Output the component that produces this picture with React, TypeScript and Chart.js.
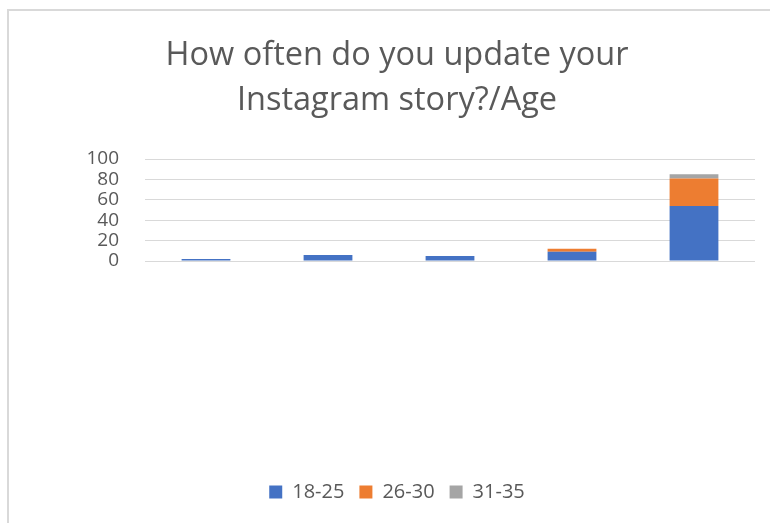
import React, { useEffect, useRef } from "react";
import { Chart, registerables } from "chart.js";

Chart.register(...registerables);

// ---- data ----
const categories = ["", "", "", "", ""];
const seriesNames = ["18-25", "26-30", "31-35"];
const values1825 = [2, 6, 5, 9, 54];
const values2630 = [0, 0, 0, 3, 27];
const values3135 = [0, 0, 0, 0, 4];
const yTickStep = 20;
const yMax = 100;
const titleLines = ["How often do you update your", "Instagram story?/Age"];

const colors = ["#4472C4", "#ED7D31", "#A5A5A5"];
const FONT = "'Open Sans', 'DejaVu Sans', sans-serif";
const TEXT = "#595959";

export default function App() {
  const ref = useRef<HTMLCanvasElement | null>(null);

  useEffect(() => {
    if (!ref.current) return;
    const chart = new Chart(ref.current, {
      type: "bar",
      data: {
        labels: categories,
        datasets: [values1825, values2630, values3135].map((d, i) => ({
          label: seriesNames[i],
          data: d,
          backgroundColor: colors[i],
          borderWidth: 0,
          barPercentage: 0.4,
          categoryPercentage: 1,
          yAxisID: "y",
        })),
      },
      options: {
        animation: false,
        responsive: false,
        devicePixelRatio: 1,
        layout: { padding: { top: 0, left: 0, right: 0, bottom: 19 } },
        plugins: {
          title: {
            display: true,
            text: titleLines,
            color: TEXT,
            font: { family: FONT, size: 32.5, weight: "normal", lineHeight: 1.385 },
            padding: { top: 22, bottom: 36 },
          },
          legend: {
            position: "bottom",
            labels: {
              boxWidth: 13,
              boxHeight: 13,
              padding: 15,
              color: TEXT,
              font: { family: FONT, size: 20 },
            },
          },
          tooltip: { enabled: false },
        },
        scales: {
          x: {
            stacked: true,
            grid: { display: false },
            border: { display: false },
            ticks: { display: false },
            afterFit: (s: any) => {
              s.height = 206;
            },
          },
          y: {
            stacked: true,
            min: 0,
            max: yMax,
            ticks: {
              stepSize: yTickStep,
              autoSkip: false,
              padding: 26,
              color: TEXT,
              font: { family: FONT, size: 19 },
            },
            grid: { color: "#d9d9d9", drawTicks: false },
            border: { display: false },
            afterFit: (s: any) => {
              s.width = 136;
            },
          },
          y2: {
            position: "right",
            display: true,
            grid: { display: false },
            ticks: { display: false },
            border: { display: false },
            afterFit: (s: any) => {
              s.width = 30;
            },
          },
        },
      } as any,
    });
    return () => chart.destroy();
  }, []);

  return (
    <div style={{ position: "fixed", left: 0, top: 0, width: 770, height: 523, overflow: "hidden", background: "#fff" }}>
      <div
        style={{
          position: "absolute",
          left: 7,
          top: 9,
          width: 780,
          height: 524,
          border: "2px solid #d9d9d9",
          background: "#fff",
        }}
      >
        <canvas ref={ref} width={776} height={520} style={{ width: 776, height: 520, display: "block" }} />
      </div>
    </div>
  );
}
